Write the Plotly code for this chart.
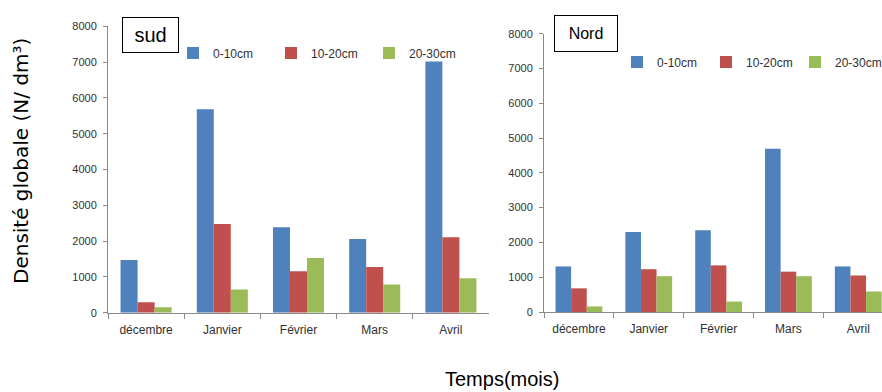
import plotly.graph_objects as go

months = ["décembre", "Janvier", "Février", "Mars", "Avril"]
series_names = ["0-10cm", "10-20cm", "20-30cm"]
colors = ["#4F81BD", "#C0504D", "#9BBB59"]

sud_0_10 = [1470, 5680, 2390, 2060, 7020]
sud_10_20 = [290, 2480, 1160, 1280, 2110]
sud_20_30 = [150, 650, 1530, 790, 960]

nord_0_10 = [1310, 2300, 2350, 4690, 1310]
nord_10_20 = [680, 1230, 1340, 1160, 1050]
nord_20_30 = [160, 1030, 300, 1030, 590]

y_ticks = [0, 1000, 2000, 3000, 4000, 5000, 6000, 7000, 8000]

W, H = 882, 392
def px(x):
    return x / W
def py(y):
    return (H - y) / H

fig = go.Figure()
sud = [sud_0_10, sud_10_20, sud_20_30]
nord = [nord_0_10, nord_10_20, nord_20_30]
for name, vals, c in zip(series_names, sud, colors):
    fig.add_trace(go.Bar(x=months, y=vals, name=name, marker=dict(color=c, line=dict(width=0)),
                         xaxis="x", yaxis="y", legend="legend"))
for name, vals, c in zip(series_names, nord, colors):
    fig.add_trace(go.Bar(x=months, y=vals, name=name, marker=dict(color=c, line=dict(width=0)),
                         xaxis="x2", yaxis="y2", legend="legend2"))

tickfont = dict(family="Liberation Sans", size=11, color="#303030")
axcol = "#8a8a8a"
common_x = dict(type="category", showgrid=False, showline=True, linecolor=axcol, linewidth=1,
                ticks="outside", tickson="boundaries", ticklen=5, tickcolor=axcol,
                tickfont=dict(family="Liberation Sans", size=12, color="#303030"),
                ticklabelstandoff=6, fixedrange=True)
common_y = dict(range=[0, 8000], tickvals=y_ticks, showgrid=False, showline=True, linecolor=axcol,
                linewidth=1, ticks="outside", ticklen=4, tickcolor=axcol, tickfont=tickfont,
                ticklabelstandoff=4, zeroline=False)

fig.update_layout(
    width=W, height=H,
    margin=dict(l=0, r=0, t=0, b=0, autoexpand=False),
    paper_bgcolor="white", plot_bgcolor="white",
    barmode="group", bargap=0.33, bargroupgap=0,
    xaxis=dict(domain=[px(108), px(489)], anchor="y", range=[-0.5, 4.5], **common_x),
    yaxis=dict(domain=[py(312.7), py(26.3)], anchor="x", **common_y),
    xaxis2=dict(domain=[px(544), 1.0], anchor="y2", range=[-0.5, 4.34], **common_x),
    yaxis2=dict(domain=[py(312), py(33.7)], anchor="x2", **common_y),
    legend=dict(orientation="h", x=px(173), y=py(53), xanchor="left", yanchor="middle",
                bgcolor="rgba(0,0,0,0)", font=dict(family="Liberation Sans", size=12, color="#303030"),
                entrywidth=53, entrywidthmode="pixels", traceorder="normal", itemwidth=30),
    legend2=dict(orientation="h", x=px(617), y=py(62), xanchor="left", yanchor="middle",
                 bgcolor="rgba(0,0,0,0)", font=dict(family="Liberation Sans", size=12, color="#303030"),
                 entrywidth=44, entrywidthmode="pixels", traceorder="normal", itemwidth=30),
    annotations=[
        dict(text="sud", x=px(150), y=py(35.3), xref="paper", yref="paper", showarrow=False,
             xanchor="center", yanchor="middle", width=55, height=34, borderpad=0,
             bordercolor="black", borderwidth=1, bgcolor="white",
             font=dict(family="Liberation Sans", size=20, color="black")),
        dict(text="Nord", x=px(586.3), y=py(33.3), xref="paper", yref="paper", showarrow=False,
             xanchor="center", yanchor="middle", width=62, height=35, borderpad=0,
             bordercolor="black", borderwidth=1, bgcolor="white",
             font=dict(family="Liberation Sans", size=16, color="black")),
        dict(text="Densité globale (N/ dm³)", x=px(21), y=py(161), xref="paper", yref="paper",
             showarrow=False, textangle=-90, xanchor="center", yanchor="middle",
             font=dict(family="DejaVu Sans", size=20, color="black")),
        dict(text="Temps(mois)", x=px(502), y=py(366), xref="paper", yref="paper",
             showarrow=False, xanchor="center", yanchor="top",
             font=dict(family="Liberation Sans", size=20, color="black")),
    ],
)

fig.write_html("out.html")
